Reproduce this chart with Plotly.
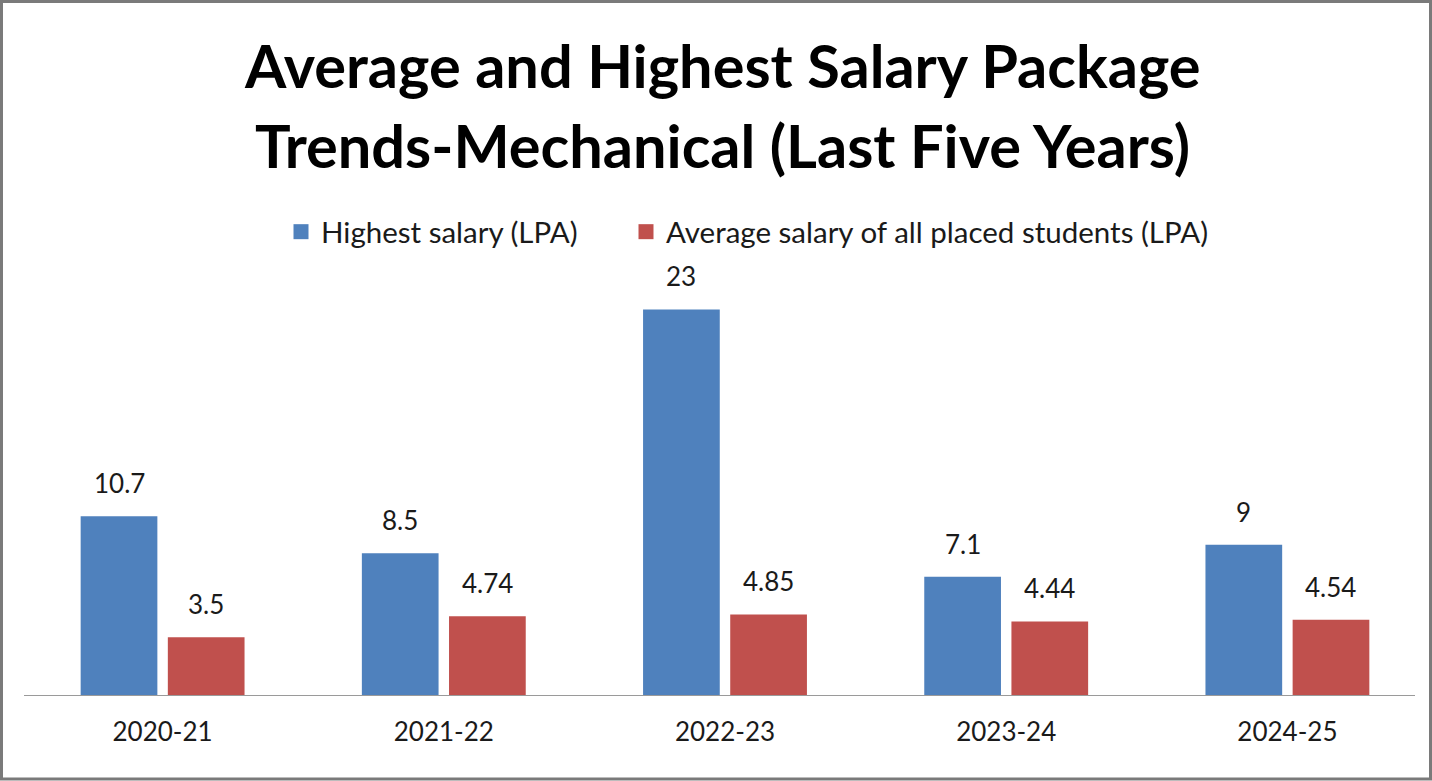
import plotly.graph_objects as go

years = ["2020-21", "2021-22", "2022-23", "2023-24", "2024-25"]
highest = [10.7, 8.5, 23, 7.1, 9]
average = [3.5, 4.74, 4.85, 4.44, 4.54]
series_names = ["Highest salary (LPA)", "Average salary of all placed students (LPA)"]
title_lines = ["Average and Highest Salary Package", "Trends-Mechanical (Last Five Years)"]

BLUE = "#4F81BD"
RED = "#C0504D"
FONT = "Lato"
TXT = "#1a1a1a"

W, H = 1432, 781
L, R, T, B = 22, 4, 254, 85
PW = W - L - R
PH = H - T - B

fig = go.Figure()
fig.add_trace(go.Bar(x=years, y=highest, name=series_names[0], showlegend=False,
                     marker=dict(color=BLUE, line=dict(width=0))))
fig.add_trace(go.Bar(x=years, y=average, name=series_names[1], showlegend=False,
                     marker=dict(color=RED, line=dict(width=0))))
# legend proxies (square swatches), one legend box each
for name, col, lg in zip(series_names, (BLUE, RED), ("legend", "legend2")):
    fig.add_trace(go.Scatter(x=[years[0]], y=[None], mode="markers", name=name, legend=lg,
                             marker=dict(symbol="square", size=15, color=col), hoverinfo="skip"))

bargap = 0.38
slot = PW / len(years) * (1 - bargap) / 2
annotations = []
for vals, sign in ((highest, -1), (average, 1)):
    for yr, v in zip(years, vals):
        annotations.append(dict(x=yr, y=v, xref="x", yref="y", text=str(v), showarrow=False,
                                yanchor="bottom", xanchor="center", xshift=sign * slot / 2, yshift=15,
                                font=dict(family=FONT, size=26, color=TXT)))

# title lines
for i, line in enumerate(title_lines):
    ypx = 65 + i * 80
    annotations.append(dict(x=(722 - L) / PW, xref="paper", y=(H - B - ypx) / PH, yref="paper",
                            text="<b>" + line + "</b>", showarrow=False, xanchor="center", yanchor="middle",
                            font=dict(family=FONT, size=59.5, color="#000000")))

leg_common = dict(orientation="h", xanchor="left", yanchor="middle", y=(H - B - 232) / PH,
                  font=dict(family=FONT, size=29.5, color=TXT), itemwidth=30,
                  bgcolor="rgba(0,0,0,0)")

fig.update_layout(
    width=W, height=H,
    margin=dict(l=L, r=R, t=T, b=B),
    paper_bgcolor="white", plot_bgcolor="white",
    barmode="group", bargap=bargap, bargroupgap=0.12,
    showlegend=True,
    legend=dict(x=(281 - L) / PW, **leg_common),
    legend2=dict(x=(626 - L) / PW, **leg_common),
    font=dict(family=FONT, color=TXT),
    annotations=annotations,
    xaxis=dict(showline=False, ticks="", showgrid=False, zeroline=False,
               tickfont=dict(family=FONT, size=26, color=TXT), ticklabelstandoff=18),
    yaxis=dict(visible=False, range=[0, 26.3], showgrid=False, zeroline=False),
    shapes=[
        dict(type="line", xref="paper", yref="y", x0=(24 - L) / PW, x1=(1415 - L) / PW, y0=0, y1=0,
             line=dict(color="#9a9a9a", width=2)),
        dict(type="rect", xref="paper", yref="paper",
             x0=(1.5 - L) / PW, x1=(W - 1.5 - L) / PW,
             y0=(H - B - (H - 2)) / PH, y1=(H - B - 1.5) / PH,
             line=dict(color="#7a7a7a", width=3), fillcolor="rgba(0,0,0,0)"),
    ],
)

fig.write_html("out.html")
